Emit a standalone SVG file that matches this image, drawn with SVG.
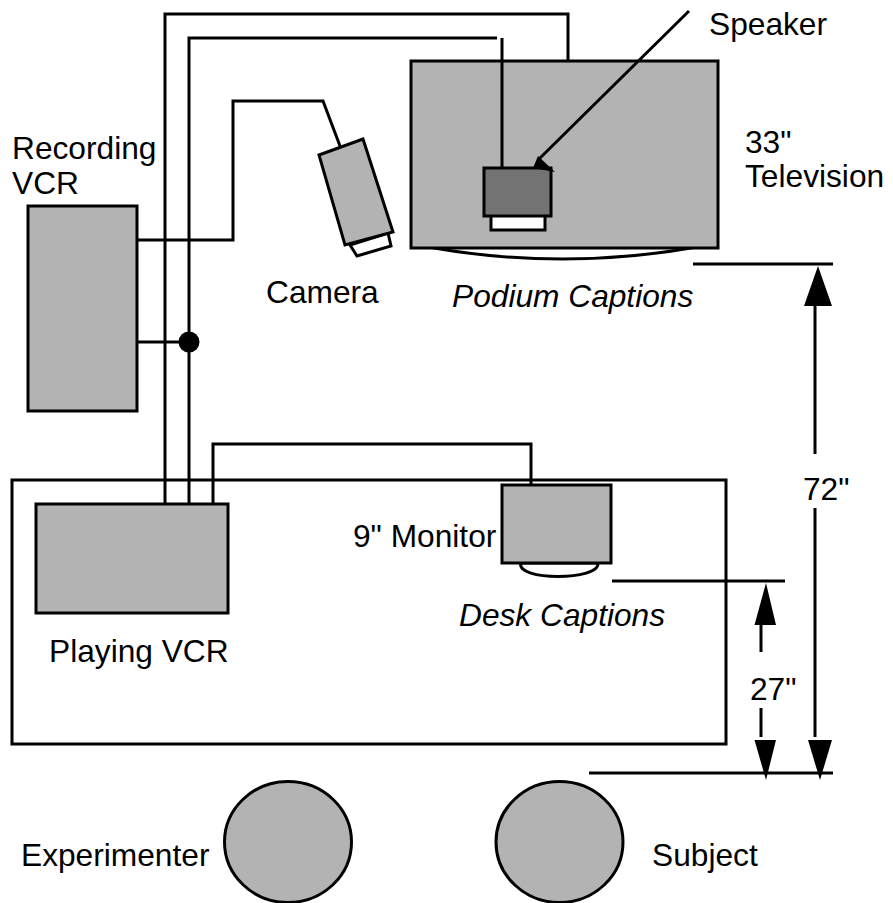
<svg xmlns="http://www.w3.org/2000/svg" width="893" height="903" viewBox="0 0 893 903">
<style>
.s{stroke:#000;stroke-width:3;fill:none;stroke-linejoin:miter}
.g{fill:#b3b3b3;stroke:#000;stroke-width:3}
.w{fill:#fff;stroke:#000;stroke-width:3}
.a{fill:#000;stroke:none}
text{font-family:"Liberation Sans",Arial,sans-serif;font-size:31.7px;fill:#000}
.i{font-style:italic}
</style>
<rect width="893" height="903" fill="#fff"/>
<g id="desk"><rect class="s" x="12" y="480" width="714" height="264"/></g>
<g id="television">
<path class="w" d="M428 247Q562 271 697 247"/>
<rect class="g" x="411" y="61" width="307" height="187"/>
<text x="745" y="153">33"</text><text x="745" y="187">Television</text>
</g>
<g id="podium-captions"><text class="i" x="452" y="307">Podium Captions</text></g>
<g id="speaker">
<rect class="w" x="491" y="215" width="54" height="15"/>
<rect x="484" y="168" width="67" height="48" fill="#737373" stroke="#000" stroke-width="3"/>
<text x="709" y="35">Speaker</text>
</g>
<g id="recording-vcr">
<rect class="g" x="28" y="206" width="109" height="205"/>
<text x="12" y="159">Recording</text><text x="12" y="194">VCR</text>
</g>
<g id="camera">
<path class="w" d="M350 245L357 256L391 246L388 233Z"/>
<path class="g" d="M319 155L363 139L393 232L345 245Z"/>
<text x="266" y="303">Camera</text>
</g>
<g id="playing-vcr">
<rect class="g" x="36" y="504" width="192" height="109"/>
<text x="49" y="662">Playing VCR</text>
</g>
<g id="monitor">
<path class="w" d="M521 563C515 581 600 581 598 563Z"/>
<rect class="g" x="502" y="485" width="109" height="78"/>
<text x="353" y="547">9" Monitor</text>
</g>
<g id="desk-captions"><text class="i" x="459" y="626">Desk Captions</text></g>
<g id="dim-labels"><text x="803" y="500">72"</text><text x="750" y="700">27"</text></g>
<g id="experimenter">
<ellipse class="g" cx="288" cy="842" rx="63.500" ry="60.500"/>
<text x="21" y="866">Experimenter</text>
</g>
<g id="subject">
<ellipse class="g" cx="559.500" cy="842" rx="63.500" ry="60.500"/>
<text x="652" y="866">Subject</text>
</g>
<g id="connectors">
<path class="s" d="M165 504V14H568V61"/>
<path class="s" d="M189 504V38H497"/>
<path class="s" d="M502 38V168"/>
<path class="s" d="M137 240H233V101H323L340 146"/>
<path class="s" d="M137 342H188"/>
<path class="s" d="M213 504V444H531V485"/>
<circle class="a" cx="189" cy="342" r="10.500"/>
<path class="s" d="M689 11L538 160"/>
<path class="a" d="M533 168L538 156L555 172Z"/>
<path class="s" d="M612 581H785"/>
<path class="s" d="M589 773H833"/>
<path class="s" d="M693 264H833"/>
<path class="s" d="M761 652V625M761 708V737M815 300V454M815 508V737"/>
<path class="a" d="M766 583L776 625H754.500ZM754.500 740H776L766 780ZM818 266L832 306H804ZM808 740H832L820 780Z"/>
</g>
</svg>
